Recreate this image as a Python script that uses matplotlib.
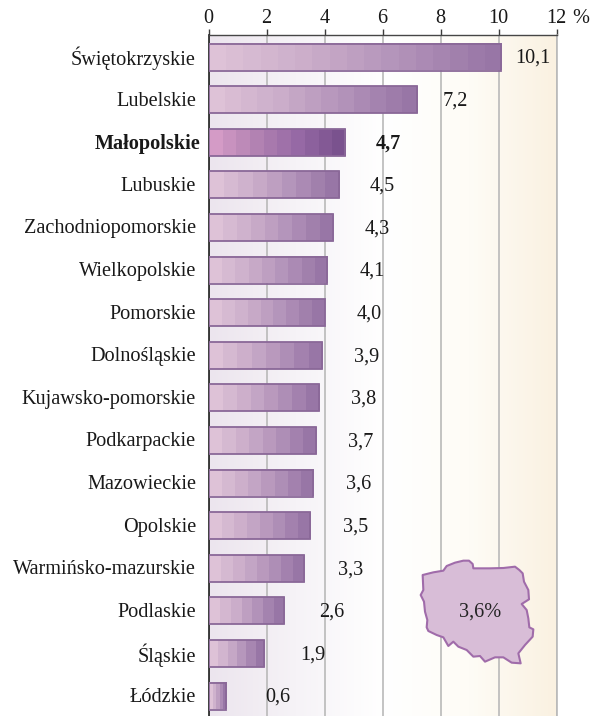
import numpy as np
import matplotlib
matplotlib.use("Agg")
import matplotlib.pyplot as plt
from matplotlib.colors import LinearSegmentedColormap
from matplotlib.patches import Polygon
from matplotlib.transforms import Affine2D

regions = ["Świętokrzyskie", "Lubelskie", "Małopolskie", "Lubuskie", "Zachodniopomorskie",
           "Wielkopolskie", "Pomorskie", "Dolnośląskie", "Kujawsko-pomorskie", "Podkarpackie",
           "Mazowieckie", "Opolskie", "Warmińsko-mazurskie", "Podlaskie", "Śląskie", "Łódzkie"]
values = [10.1, 7.2, 4.7, 4.5, 4.3, 4.1, 4.0, 3.9, 3.8, 3.7, 3.6, 3.5, 3.3, 2.6, 1.9, 0.6]
highlight = "Małopolskie"
x_ticks = [0, 2, 4, 6, 8, 10, 12]
national_label = "3,6%"

# Outline of the map, traced in reference pixels
map_outline = [(68,105),(100,97),(130,92),(140,78),(165,68),(190,62),(207,62),(218,72),(220,85),(235,85),
               (270,85),(310,84),(345,80),(358,90),(368,100),(372,125),(385,150),(387,178),(365,192),
               (380,210),(385,235),(388,262),(400,268),(398,290),(375,315),(355,340),(362,370),(335,368),
               (310,352),(285,352),(255,365),(240,348),(220,350),(200,330),(175,320),(160,305),(145,318),
               (130,292),(110,285),(85,273),(80,262),(82,240),(75,215),(72,185),(62,165),(70,150)]

plt.rcParams['font.family'] = ['Liberation Serif', 'DejaVu Serif']
W, H = 596, 716
FS = 14.6
fig = plt.figure(figsize=(W / 100, H / 100), dpi=100, facecolor='white')
ax = fig.add_axes([208.5 / W, 0, 348 / W, (H - 35) / H])

pitch = 42.6
y_top = (35 - 57) / pitch
y_bot = (716 - 57) / pitch
ypos = np.arange(len(values))

def c(r, g, b):
    return (r / 255, g / 255, b / 255)

# Background gradient
bg = LinearSegmentedColormap.from_list(
    "bg", [c(236, 229, 238), c(246, 243, 247), c(255, 255, 255), c(254, 252, 246), c(250, 241, 225)],
)
ax.imshow(np.linspace(0, 1, 256)[None, :], cmap=bg, extent=(0, 12, y_bot, y_top),
          aspect='auto', zorder=0, interpolation='bilinear')

ax.set_axisbelow(True)
ax.xaxis.grid(True, color=c(185, 185, 185), lw=1.2, zorder=1)
ax.yaxis.grid(False)

cm_normal = LinearSegmentedColormap.from_list(
    "n", [c(222, 194, 215), c(203, 173, 202), c(178, 146, 185), c(152, 118, 166)])
cm_high = LinearSegmentedColormap.from_list(
    "h", [c(212, 155, 198), c(178, 130, 178), c(150, 105, 165), c(122, 82, 142)])

bars = ax.barh(ypos, values, height=27 / pitch, facecolor='none',
               edgecolor=c(138, 104, 152), lw=1.3, zorder=4)
for rect, name, v in zip(bars, regions, values):
    steps = max(5, int(round(v * 1.4)) + 3)
    cmap = cm_high if name == highlight else cm_normal
    x0, x1 = rect.get_x(), rect.get_x() + rect.get_width()
    y0, y1 = rect.get_y(), rect.get_y() + rect.get_height()
    ax.imshow(np.linspace(0, 1, steps)[None, :], cmap=cmap, extent=(x0, x1, y1, y0),
              aspect='auto', zorder=3, interpolation='nearest')

ax.set_xlim(0, 12)
ax.set_ylim(y_bot, y_top)

# Category labels and value labels
ax.set_yticks([])
for y, name, v in zip(ypos, regions, values):
    bold = name == highlight
    ax.annotate(name, xy=(0, y), xytext=(-8 if bold else -12.5, -1.5), textcoords='offset pixels',
                ha='right', va='center', fontsize=FS, weight='bold' if bold else 'normal',
                color=c(25, 25, 25))
    label_x = (262 + 26.8 * v - 208.5) / 29
    ax.annotate(f"{v:.1f}".replace('.', ','), xy=(label_x, y), xytext=(0, -1.5),
                textcoords='offset pixels', ha='center', va='center',
                fontsize=FS, weight='bold' if bold else 'normal', color=c(25, 25, 25), zorder=5)

# Top axis
ax.xaxis.tick_top()
ax.set_xticks(x_ticks)
ax.set_xticklabels([str(t) for t in x_ticks], fontsize=FS, color=c(25, 25, 25))
ax.tick_params(axis='x', length=4, width=1, color=c(60, 60, 60), pad=1)
ax.spines['bottom'].set_visible(False)
ax.spines['right'].set_color(c(185, 185, 185))
ax.spines['right'].set_linewidth(1.2)
ax.spines['top'].set_color(c(70, 70, 70))
ax.spines['top'].set_linewidth(1.0)
ax.spines['left'].set_color(c(30, 30, 30))
ax.spines['left'].set_linewidth(1.2)
ax.annotate("%", xy=(12, y_top), xytext=(24, 7), textcoords='offset pixels',
            ha='center', va='bottom', fontsize=FS, color=c(25, 25, 25))

# Map inset
px = (Affine2D().scale(1 / 3).translate(400, 540).scale(1, -1).translate(0, H)
      .scale(1 / W, 1 / H) + fig.transFigure)
ax.add_patch(Polygon(map_outline, closed=True, transform=px, facecolor=c(216, 189, 215),
                     edgecolor=c(160, 108, 170), lw=1.5, zorder=6, joinstyle='round', clip_on=False))
ax.text(240, 215, national_label, transform=px, ha='center', va='center', fontsize=FS,
        color=c(35, 35, 35), zorder=7)

fig.savefig("out.png", dpi=100)
